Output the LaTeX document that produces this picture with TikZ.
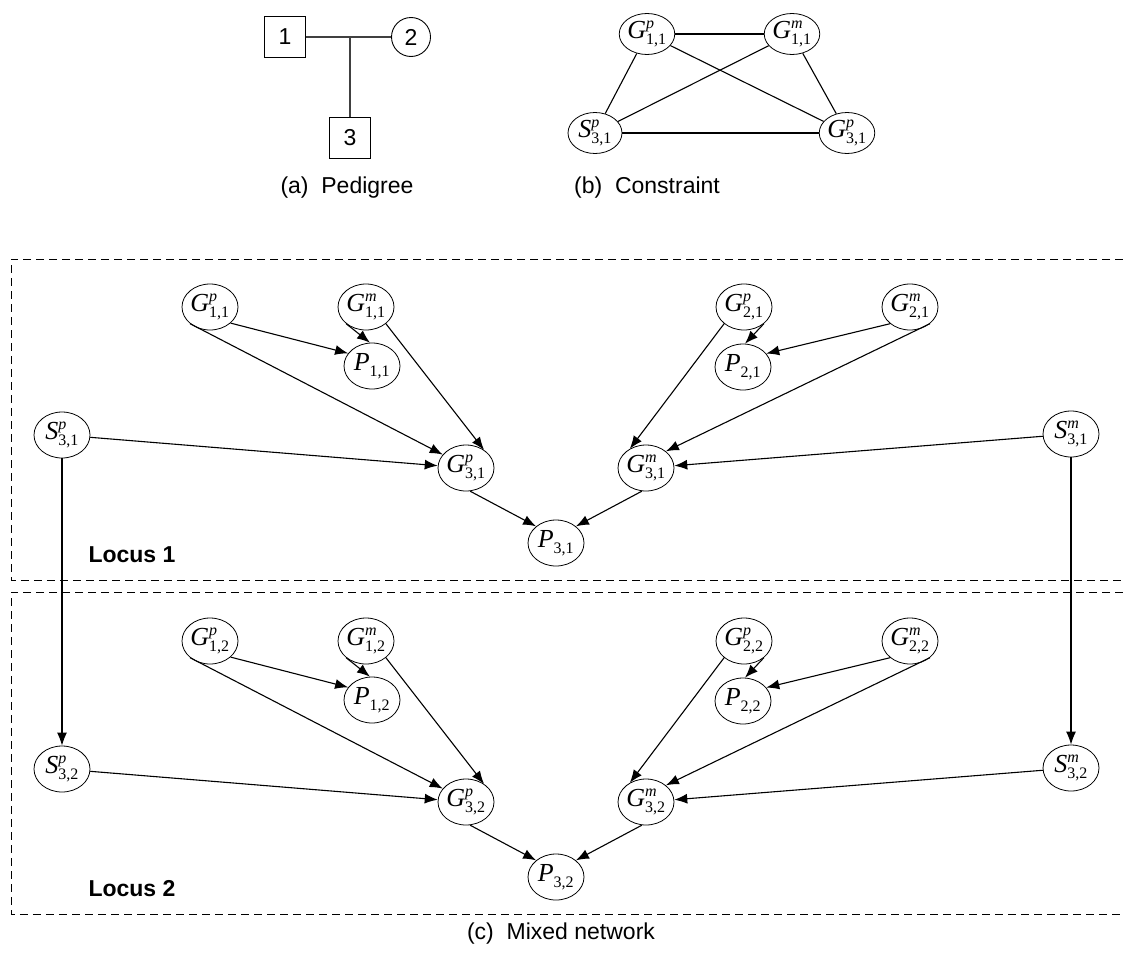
\documentclass[tikz,border=0pt]{standalone}
\usepackage{fontspec}
\setmainfont{Liberation Sans}
\newfontfamily\tms{Liberation Serif}
\usetikzlibrary{shapes.geometric,arrows.meta}
\newcommand\lbl[3]{$\hbox{\tms\itshape #1}^{\hbox{\tms\itshape\fontsize{16}{16}\selectfont #2}}_{\hbox{\tms\fontsize{16}{16}\selectfont #3}}$}
\begin{document}
\begin{tikzpicture}[x=1pt,y=-1pt,
  nd/.style={ellipse,draw,line width=0.8pt,minimum width=56pt,minimum height=46pt,inner sep=0pt,font=\fontsize{26}{31}\selectfont},
  cn/.style={ellipse,draw,line width=0.8pt,minimum width=54pt,minimum height=41pt,inner sep=0pt,font=\fontsize{26}{31}\selectfont},
  arr/.style={-{Latex[length=13pt,width=10pt]},line width=1.1pt},
  ln/.style={line width=1.1pt},
  pln/.style={line width=1.1pt,black!75},
  ped/.style={draw,line width=0.9pt,minimum size=41pt,inner sep=0pt,font=\fontsize{23}{28}\selectfont},
  dbox/.style={dash pattern=on 8pt off 5pt,line width=0.9pt},
  captxt/.style={font=\fontsize{23}{28}\selectfont},
  locus/.style={font=\bfseries\fontsize{23}{28}\selectfont}]
\useasboundingbox (0,0) rectangle (1123,969);
% (a) Pedigree
\node[ped] (p1) at (285,37) {1};
\node[ped,circle,minimum size=39pt] (p2) at (411,37) {2};
\node[ped] (p3) at (350,138) {3};
\coordinate (pm) at (350,37);
\draw[pln] (p1) -- (p2);
\draw[pln] (pm) -- (p3);
\node[captxt] (capa) at (347,188) {(a)\ \ Pedigree};
% (b) Constraint
\node[cn] (c1) at (647,34) {\lbl{G}{p}{1,1}};
\node[cn] (c2) at (792,34) {\lbl{G}{m}{1,1}};
\node[cn] (c3) at (595,133) {\lbl{S}{p}{3,1}};
\node[cn] (c4) at (847,133) {\lbl{G}{p}{3,1}};
\draw[ln] (c1) -- (c2);
\draw[ln] (c1) -- (c3);
\draw[ln] (c1) -- (c4);
\draw[ln] (c2) -- (c3);
\draw[ln] (c2) -- (c4);
\draw[ln] (c3) -- (c4);
\node[captxt] (capb) at (647,188) {(b)\ \ Constraint};
% (c) Mixed network
\draw[dbox] (1123,259) -- (11,259) -- (11,580) -- (1123,580);
\draw[dbox] (1123,592) -- (11,592) -- (11,914) -- (1123,914);
\foreach \k/\dy in {1/0,2/334}{
  \node[nd] (G1p\k) at (210,307+\dy) {\lbl{G}{p}{1,\k}};
  \node[nd] (G1m\k) at (366,307+\dy) {\lbl{G}{m}{1,\k}};
  \node[nd] (P1\k)  at (372,366+\dy) {\lbl{P}{}{1,\k}};
  \node[nd] (Sp\k)  at (62,435+\dy) {\lbl{S}{p}{3,\k}};
  \node[nd] (G3p\k) at (466,468+\dy) {\lbl{G}{p}{3,\k}};
  \node[nd] (G3m\k) at (646,468+\dy) {\lbl{G}{m}{3,\k}};
  \node[nd] (P3\k)  at (556,543+\dy) {\lbl{P}{}{3,\k}};
  \node[nd] (G2p\k) at (744,307+\dy) {\lbl{G}{p}{2,\k}};
  \node[nd] (G2m\k) at (910,307+\dy) {\lbl{G}{m}{2,\k}};
  \node[nd] (P2\k)  at (743,367+\dy) {\lbl{P}{}{2,\k}};
  \node[nd] (Sm\k)  at (1071,434+\dy) {\lbl{S}{m}{3,\k}};
  \node[locus] (Loc\k) at (132,555+\dy) {Locus \k};
  \draw[arr] (G1p\k.-38) -- (P1\k.152);
  \draw[arr] (G1p\k.220) -- (G3p\k.150);
  \draw[arr] (G1m\k.220) -- (P1\k.95);
  \draw[arr] (G1m\k.-40) -- (G3p\k.45);
  \draw[arr] (Sp\k) -- (G3p\k);
  \draw[arr] (G3p\k.-80) -- (P3\k.140);
  \draw[arr] (G3m\k.-100) -- (P3\k.40);
  \draw[arr] (G2p\k.220) -- (G3m\k.130);
  \draw[arr] (G2p\k.-40) -- (P2\k.85);
  \draw[arr] (G2m\k.220) -- (P2\k.30);
  \draw[arr] (G2m\k.-40) -- (G3m\k.40);
  \draw[arr] (Sm\k) -- (G3m\k);
}
\draw[arr] (Sp1) -- (Sp2);
\draw[arr] (Sm1) -- (Sm2);
\node[captxt] (capc) at (561,934) {(c)\ \ Mixed network};
\end{tikzpicture}
\end{document}
